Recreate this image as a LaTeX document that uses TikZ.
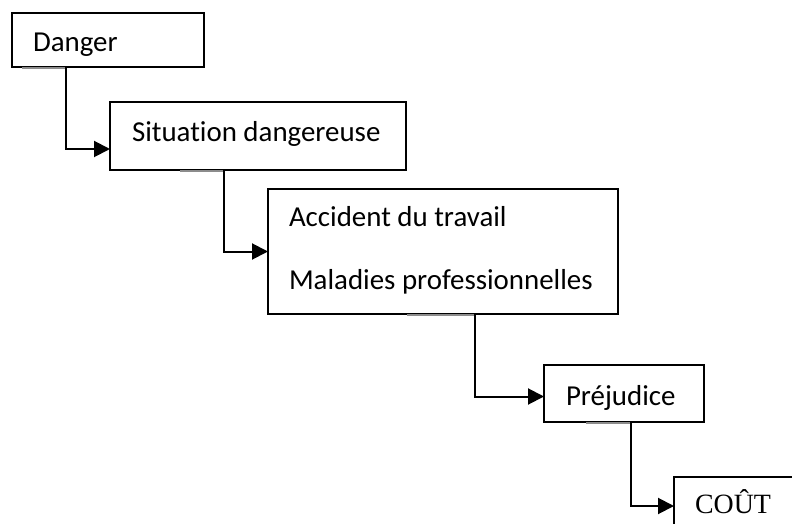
\documentclass[tikz,border=0pt]{standalone}
\usepackage{fontspec}
\setmainfont{Carlito}[Ligatures={NoCommon}]
\newfontfamily\timesfont{Liberation Serif}
\usetikzlibrary{arrows.meta}

\tikzset{
  box/.style={draw=black, line width=2bp, fill=white, anchor=north west,
    inner sep=0pt, outer sep=0pt},
  lbl/.style={anchor=base west, inner sep=0pt, outer sep=0pt,
    font=\fontsize{29}{35}\selectfont},
  conn/.style={draw=black, line width=2bp,
    -{Triangle[length=16bp,width=16bp]}},
  stub/.style={draw=black!45, line width=1.6bp}
}

\begin{document}
\begin{tikzpicture}[x=1bp, y=-1bp]
  \useasboundingbox (0,0) rectangle (792,524);
  \clip (0,0) rectangle (792,524);
  \fill[white] (0,0) rectangle (792,524);

  % boxes
  \node[box, minimum width=192bp, minimum height=54bp] (danger) at (12,13) {};
  \node[box, minimum width=296bp, minimum height=68bp] (situation) at (110,102) {};
  \node[box, minimum width=350bp, minimum height=125bp] (accident) at (268,189) {};
  \node[box, minimum width=160bp, minimum height=57bp] (prejudice) at (544,365) {};
  \node[box, minimum width=160bp, minimum height=70bp] (cout) at (674,477) {};

  % texts
  \node[lbl] (tdanger) at (33,52) {Danger};
  \node[lbl] (tsituation) at (132,141.5) {Situation dangereuse};
  \node[lbl] (taccident) at (289,227) {Accident du travail};
  \node[lbl] (tmaladies) at (289,290) {Maladies professionnelles};
  \node[lbl] (tprejudice) at (566,405) {Préjudice};
  \node[lbl, font=\timesfont\fontsize{28}{33}\selectfont] (tcout) at (695,513) {COÛT};

  % bend points of the connectors
  \coordinate (b1) at (66,67);
  \coordinate (b2) at (224,170);
  \coordinate (b3) at (475,314);
  \coordinate (b4) at (631,422);

  % short grey starts along the box bottoms
  \draw[stub] (22,68) -- (b1 |- 0,68);
  \draw[stub] (180,171) -- (b2 |- 0,171);
  \draw[stub] (407,315) -- (b3 |- 0,315);
  \draw[stub] (586,423) -- (b4 |- 0,423);

  % connectors
  \draw[conn] (b1) |- ([yshift=-13bp]situation.west);
  \draw[conn] (b2) |- (accident.west);
  \draw[conn] (b3) |- ([yshift=-3bp]prejudice.west);
  \draw[conn] (b4) |- (cout.west |- 0,506);
\end{tikzpicture}
\end{document}
